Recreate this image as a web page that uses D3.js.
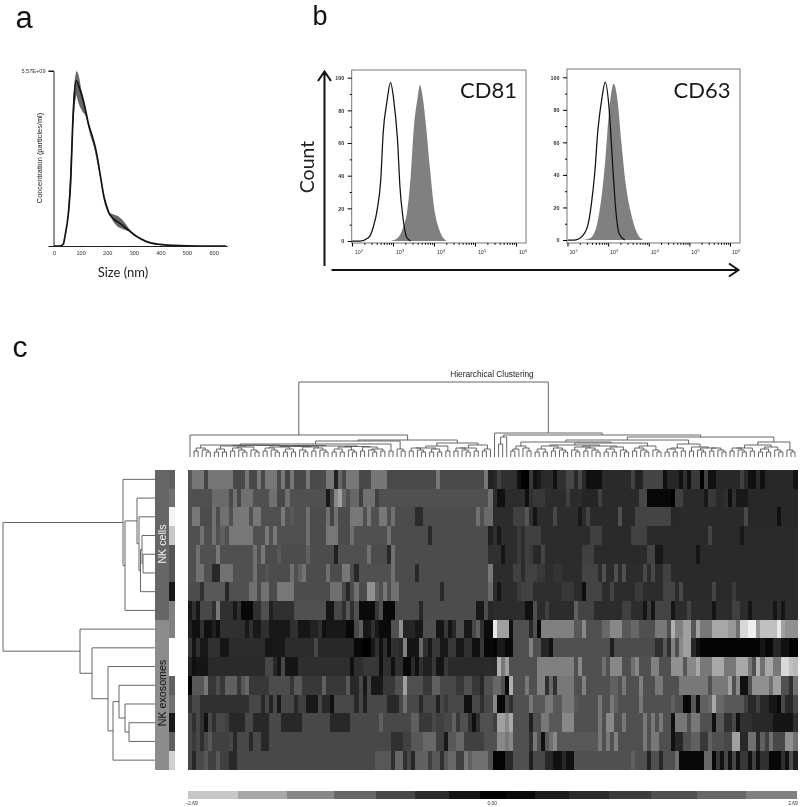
<!DOCTYPE html>
<html><head><meta charset="utf-8">
<script src="https://cdn.jsdelivr.net/npm/d3@7"></script>
<style>html,body{margin:0;padding:0;background:#fff}svg{display:block;filter:blur(0.35px)}</style>
</head><body><svg id="c" width="800" height="807"></svg>
<script>
// ---------- panel a: size (nm) vs concentration (1e9 particles/ml)
const ntaSize=[0,22,35,41,54,63,70,75,83,98,113,129,148,160,173,188,204,223,248,279,311,348,398,449,549,647];
const ntaConc=[0,0,.06,.3,1.04,2.1,3.79,4.64,5.25,4.96,4.53,3.9,3.37,2.95,2.3,1.55,1.09,.87,.72,.51,.3,.14,.05,.02,0,0];
const errSize=[54,60,66,72,78,84,90,96,102,108,114,120,135,150,170,190,210,225,240,255,270,285,300];
const errHigh=[1.2,2.2,3.3,4.6,5.3,5.57,5.5,5.3,5.0,4.8,4.55,4.3,3.7,3.25,2.45,1.55,1.05,1.0,.95,.85,.7,.52,.4];
const errLow=[.8,1.4,2.4,3.8,4.5,4.8,4.6,4.45,4.35,4.25,4.2,4.1,3.55,3.15,2.35,1.45,.95,.75,.6,.55,.5,.45,.38];
const ntaTicks=[0,100,200,300,400,500,600];
// ---------- panel b: flow cytometry histograms
const cd81OpenX=[98,157,251,331,417,501,575,708,871,1047,1288,1479,1738,2138,2692];
const cd81OpenY=[0,0,2,8.6,20,37,66,85,97,86,62,33,15,2.5,0];
const cd81FillX=[851,1230,1778,2239,2692,3236,3890,4571,5248,6310,7943,10000,14125,20417];
const cd81FillY=[0,1.4,8.6,19,39,70,86,95.5,89,72,45,21,5.5,0];
const cd63OpenX=[100,151,243,324,389,468,562,692,851,1047,1288,1549,1862,2570];
const cd63OpenY=[0,0,3,10,22.5,41,68,86,97,82,47,18,4,0];
const cd63FillX=[243,355,513,692,851,1047,1380,1660,2138,2692,3548,5012,7244];
const cd63FillY=[0,1,8,27,49,78,96,88,59,35,18,5,0];
const flowYMajor=[0,20,40,60,80,100];
const flowYMinor=[10,30,50,70,90];
const flowXMajor=[100,1000,10000,100000,1000000];
const flowXExp=[2,3,4,5,6];
const flowXMinor=[200,300,400,500,600,700,800,900,2000,3000,4000,5000,6000,7000,8000,9000,20000,30000,40000,50000,60000,70000,80000,90000,200000,300000,400000,500000,600000,700000,800000,900000];
// ---------- panel c: heat map, gray level per run of columns ("count:level", level in hex)
const heatLeft=[
"55 3:77 44 6:77 3:48 77 2:48 77 48 3:77 48 77 44 77 3:48 77 4:4a 2:77 22 66 33 48 3:77 3:48 4:77 12:4a 77 11:4a 77 22",
"6:50 4:6a 48 70 48 3:70 4:50 2:70 2:48 70 9:50 18 44 88 a0 66 50 2:66 40 3:70 40 27:50 70",
"50 2:78 3:4c 70 4c 2:70 50 4:78 50 2:78 5:50 78 50 58 3:50 70 4:4c 70 44 70 3:4c 3:78 50 78 2:50 2:78 50 70 5:4c 2:2c 13:4c 70 50 2:6a",
"3:50 70 2:50 70 50 60 50 6:78 3:50 78 50 78 7:50 70 4:4c 3:78 3:4c 70 8:50 70 9:4c 2a 14:4c 20",
"2:50 70 4:50 78 8:50 70 50 78 3:4c 58 6:4c 60 6:4c 20 7:50 70 4:4c 28 70 23:4c 30",
"2:50 2:72 2:50 2:28 3:72 5:50 70 2:4c 54 5:4c 70 50 60 72 5:4c 70 2:4c 2:78 4c 28 8:50 70 5:4c 28 17:4c 78",
"3:4c 30 5:58 28 5:50 2:70 4c 2:72 2:4c 4:78 9:4c 2:70 48 28 4c 70 2:4c 2:90 60 50 78 50 2:70 10:4c 2a 11:4c 6a",
"18 30 15 3:48 30 78 3:30 18 30 3:08 2:30 2:50 20 5:30 8:50 2:15 48 30 58 30 50 4:0a 38 50 3:08 6:4c 28 13:4c 2:18 4c 28",
"20 2:10 30 2:10 20 10 6:30 18 30 2:18 2:30 5:18 2:30 3:15 2:22 30 10 4:18 2:08 48 60 2:18 30 18 3:0a 2:50 90 3:25 2:18 3:50 2:15 38 15 28 2:50 2:18 48 60 30 2:0c",
"38 15 30 2:18 3:30 2:15 9:2c 2:15 3:18 7:2c 48 2:28 6:28 2:08 2:00 18 30 10 30 0c 2:30 28 80 3:15 68 30 18 2:38 2:18 2:38 2:18 2:30 2:10 38 2:08",
"20 10 3:15 14:2a 2:48 28 15 48 3:15 12:2e 10 2:2e 4:38 10 2:30 10 2:30 2:08 2a 10 30 2:20 38 2:15 38 5:2a 6:2a",
"02 3:58 78 2:38 4c 38 3:60 38 58 68 5:38 5:4c 38 2:58 5:38 60 4:38 58 2:28 48 18 48 3:18 3:38 2:50 a0 4:50 2:38 2:60 4:48 2:38 2:50 2:38 28 2:50",
"30 2:48 12:30 3:48 28 48 25 48 18 3:48 28 2:40 3:18 48 2:28 10 4:48 28 48 22 5:48 3:28 48 70 3:48 28 3:48 20 48 38 4:48 2:10 2:48 30 2:48",
"48 30 48 30 10 48 30 2:48 40 4:28 2:48 4:28 3:48 5:28 7:48 4:28 7:48 60 7:48 2:60 3:38 48 2:40 2:48 60 38 2:50 30 10 30 3:50",
"48 3a 48 30 48 58 4:40 48 28 3:48 28 2:48 2:28 30:48 3:30 2:40 3:58 3:68 2:40 18 2:58 2:68 5:40 2:50",
"48 28 2:48 58 2:40 58 2:40 2:28 34:48 4:58 30 2:68 30 48 28 3:60 40 2:58 30 58 2:68 2:40 78 60 4:70 50"];
const heatRight=[
"2a 40 4:30 10 2:00 38 10 18 3:2a 10 2:30 48 2a 48 2a 4:10 7:2a 44 2:22 5:44 10 3:28 10 30 10 2:3a 00 40 2:10 5:28 40 28 2:10 2a 10 7:28 12",
"2c 2:10 5:2c 10 30 2:38 5:2c 40 3:2c 4:25 40 9:2a 48 6:08 00 2:40 5:2a 18 2:38 2:2a 30 10 30 2:18 12:28",
"5:2c 3:40 55 30 15 4:2c 48 4:2c 18 2c 44 7:2a 50 3:2a 9:44 2:28 15:2a 48 7:28 10 4:28",
"30 18 4:2c 3a 2c 4:40 11:2c 3:40 7:2a 4:42 15:2a 44 6:2a 18 13:2a",
"2:30 15 3:2c 3a 2c 40 3a 2:28 44 9:2c 3:40 12:2a 2:44 2:18 8:2a 15 24:2a",
"5:2c 2:40 2c 3:42 2:38 2:2c 2:34 4:2c 4:44 2c 50 2:2c 50 2c 50 4:2c 48 2c 48 2:2c 2:42 30:2a",
"2c 15 4:2c 3a 3:42 7:2e 2:38 2:2c 10 4:44 2:2c 44 5:2c 2:3a 5:2c 3:44 2c 48 7:2a 44 3:2a 3c 15:2a",
"8:2c 2:10 50 2:2c 40 5:2c 60 4:44 7:2c 2:40 3:2c 15 3a 15 4:44 15 3:2c 44 5:2c 15 3:2c 2:40 2:2c 15 5:2c 15 2c 15 3:2c",
"e8 3:a0 10 4:50 28 50 08 7:80 2:58 88 4:50 2:68 3:88 2:58 2:68 4:50 3:78 50 b0 2:80 2:a0 58 a0 3:78 3:a8 2:98 70 2:d8 2:f0 98 4:c0 e8 a0 3:90",
"04 2:18 2:08 4:50 80 2:50 2:25 10 13:50 20 10:4c 2:30 58 30 80 50 88 2:a0 28 10 14:04 15 2:08 2:28 2:10 2:04",
"28 b0 78 a0 7:50 8:80 50 88 5:50 70 50 3:88 2:50 70 88 3:50 2:80 3:50 3:90 58 2:88 a8 3:78 2:a8 3:78 3:a8 78 50 b0 70 2:a8 2:78 2:d8 c0 b8",
"2:68 50 08 b0 3:50 78 2:50 2:80 30 68 30 3:78 2:50 80 6:50 2:60 50 78 3:50 80 3:50 2:78 4:50 7:78 50 3:78 a0 50 88 2:10 50 90 3:90 70 2:a0 2:50 30 70",
"88 2:08 48 30 4:50 78 3:58 2:78 2:58 2:78 58 5:50 78 2:50 78 60 5:50 78 7:50 60 2:50 2:08 58 10 2:60 68 a8 68 5:58 40 2:28 40 2:28 2:15 08 48 2:28 48",
"40 2:a0 88 a8 4:50 20 2:50 2:78 3:58 2:88 6:50 78 50 2:88 2:50 78 4:50 78 50 78 50 78 2:50 10 3:78 50 2:78 3:50 10 58 2:30 48 10 3:30 5:28 5:15 30",
"50 2:88 78 88 4:50 30 78 50 10 58 70 88 9:58 78 50 78 50 80 6:50 78 50 2:78 3:50 10 2:28 2:50 2:60 2:38 60 2:50 2:48 2:a0 2:28 2:70 28 60 40 70 3:48 2:90 70",
"3:04 2:28 4:50 20 2:48 2:28 2:10 28 2:10 14:50 60 2:50 22 2:50 28 3:50 70 6:08 2:68 08 38 10 48 10 48 10 38 10 40 10 2:30 3:08 30 10 50 20"];
const rowGroupLabels=["NK cells","NK exosomes"];
const rowGroupGrays=[0x66,0x8c];
const rowSampleGrays=[0x60,0x70,0xf4,0xc8,0x55,0x55,0x18,0x80,0x80,0xff,0xff,0x60,0x70,0x18,0x60,0xd0];
const legendEdges=[-2.69,-2.24,-1.81,-1.40,-1.03,-0.68,-0.38,-0.11,0.12,0.38,0.68,1.03,1.40,1.81,2.24,2.69];
const legendGrays=[0xc8,0xa8,0x88,0x66,0x48,0x2c,0x14,0x00,0x0a,0x1c,0x2c,0x3c,0x50,0x68,0x80];
const legendLabels=[-2.69,0,2.69];
// dendrograms: [height, left, right], 0 = leaf
const a5=[9,[6,0,0],[7,0,[5,0,0]]];
const b4=[8,[5,0,0],[5,0,0]];
const t3=[7,0,[5,0,0]];
const c2=[6,0,0];
const colLeftMain=[11.5,[11,b4,[10,a5,t3]],[11,[10.5,[10,a5,b4],[10,t3,a5]],[10.5,[10,b4,t3],[10,c2,[8,t3,c2]]]]];
const colLeftSide=[14,[11,[9,a5,b4],c2],[12,[9,a5,c2],[8,c2,0]]];
const colLeft=[22,0,[17,[16,[13,[12,a5,colLeftMain],c2],[8,0,c2]],colLeftSide]];
const colRightA=[15,[11,[8,c2,0],[9,0,c2]],[14,[12,[11,b4,a5],[11,[10,t3,a5],[10,b4,t3]]],[11,a5,t3]]];
const colRightB=[13,[9,b4,c2],[10,c2,[9,t3,a5]]];
const colRightC=[15,[12,[9,a5,c2],[10,b4,t3]],t3];
const colRight=[24,0,[22,[20,[13,0,0],0],[20,[17,colRightA,colRightB],colRightC]]];
const colTree=[75,colLeft,colRight];
const rowTree=[152,
 [32,0,[30,[18,0,[16,0,[14.5,[13,0,[12,0,0]],0]]],0]],
 [75,0,[63,0,[47,0,[42,[36,0,[30,0,[26,0,0]]],0]]]]];

const svg=d3.select("#c");
const SANS="'Liberation Sans',Arial,sans-serif", BIG="Lato,sans-serif";
const gray=v=>d3.rgb(v,v,v).formatHex();
function label(t,x,y,size,opt={}){
  const e=svg.append("text").attr("x",x).attr("y",y).attr("font-size",size).attr("font-family",opt.font||BIG)
   .attr("text-anchor",opt.anchor||"middle").attr("fill",opt.fill||"#111").text(t);
  if(opt.rot!==undefined) e.attr("transform",`rotate(${opt.rot} ${x} ${y})`);
  return e;
}
label("a",24,28,31,{font:SANS});
label("b",320,24.5,27,{font:SANS});
label("c",20,357,30,{font:SANS});

// ---------- panel a
const aX=d3.scaleLinear().domain([0,650]).range([54,226.9]);
const aY=d3.scaleLinear().domain([0,5.57]).range([246,70.7]);
const ga=svg.append("g");
ga.append("path").attr("d",d3.area().x((d,i)=>aX(errSize[i])).y0((d,i)=>aY(errLow[i])).y1((d,i)=>aY(errHigh[i]))(errSize)).attr("fill","#666");
ga.append("path").attr("d",d3.line().x((d,i)=>aX(ntaSize[i])).y((d,i)=>aY(ntaConc[i])).curve(d3.curveMonotoneX)(ntaSize))
  .attr("fill","none").attr("stroke","#111").attr("stroke-width",1.7);
const axA=ga.append("g").attr("transform","translate(0,246)").call(d3.axisBottom(aX).tickValues(ntaTicks).tickSize(1));
axA.select(".domain").attr("stroke","#222");
axA.selectAll("text").attr("font-size",5.6).attr("font-family",SANS).attr("fill","#333").attr("dy",4.5);
const ayA=ga.append("g").attr("transform","translate(53.5,0)").call(d3.axisLeft(aY).tickValues([5.57]).tickSize(5).tickFormat(()=>"5.57E+09"));
ayA.select(".domain").attr("stroke","#222");
ayA.selectAll("text").attr("font-size",5.6).attr("font-family",SANS).attr("fill","#333");
label("Concentration (particles/ml)",42,158,7.4,{font:SANS,rot:-90,fill:"#222"});
label("Size (nm)",123,277,13,{fill:"#222"});

// ---------- panel b
function flow(left,right,x2,x6,exOff,yTop,y0,y100,openX,openY,fillX,fillY,name,nameX){
  const x=d3.scaleLog().domain([100,1e6]).range([x2,x6]);
  const y=d3.scaleLinear().domain([0,100]).range([y0,y100]);
  const g=svg.append("g");
  const clip=d=>Math.max(left,x(d));
  g.append("path").attr("d",d3.area().x((d,i)=>clip(fillX[i])).y0(y0).y1((d,i)=>y(fillY[i])).curve(d3.curveMonotoneX)(fillX)).attr("fill","#808080");
  g.append("path").attr("d",d3.line().x((d,i)=>clip(openX[i])).y((d,i)=>y(openY[i])).curve(d3.curveMonotoneX)(openX))
    .attr("fill","none").attr("stroke","#111").attr("stroke-width",1.25);
  g.append("rect").attr("x",left).attr("y",yTop).attr("width",right-left).attr("height",243-yTop).attr("fill","none").attr("stroke","#777").attr("stroke-width",1);
  const ym=g.append("g").attr("transform",`translate(${left},0)`).call(d3.axisLeft(y).tickValues(flowYMajor).tickSize(4));
  ym.select(".domain").remove();
  ym.selectAll("text").attr("font-size",5.4).attr("font-family",SANS).attr("font-weight","bold").attr("fill","#333").attr("dx",-0.5);
  const yn=g.append("g").attr("transform",`translate(${left},0)`).call(d3.axisLeft(y).tickValues(flowYMinor).tickSize(2).tickFormat(""));
  yn.select(".domain").remove();
  const xm=g.append("g").attr("transform","translate(0,243)").call(d3.axisBottom(x).tickValues(flowXMajor).tickSize(3.5).tickFormat(""));
  xm.select(".domain").remove();
  const xn=g.append("g").attr("transform","translate(0,243)").call(d3.axisBottom(x).tickValues(flowXMinor).tickSize(1.8).tickFormat(""));
  xn.select(".domain").remove();
  flowXMajor.forEach((v,i)=>{
    const t=g.append("text").attr("x",x(v)+exOff).attr("y",254).attr("text-anchor","middle").attr("font-size",5.4).attr("font-family",SANS).attr("fill","#333");
    t.append("tspan").text("10");
    t.append("tspan").attr("font-size",4).attr("dy",-2).text(flowXExp[i]);
  });
  label(name,nameX,97.7,22,{fill:"#1a1a1a"});
}
flow(351.7,526,352,516,7,70,241,77.7,cd81OpenX,cd81OpenY,cd81FillX,cd81FillY,"CD81",488.5);
flow(567,740,567.5,730,6,69,240,77.3,cd63OpenX,cd63OpenY,cd63FillX,cd63FillY,"CD63",702);
label("Count",314,167,19.5,{rot:-90,fill:"#222"});
const arrow=svg.append("g").attr("fill","none").attr("stroke","#111").attr("stroke-width",2);
arrow.append("path").attr("d","M324.5 266V71.5M318 81L324.5 71.5L331 81");
arrow.append("path").attr("d","M331.5 270H738M729 263.5L738.5 270L729 276.5");

// ---------- panel c
function expand(s){
  const runs=s.split(" ").map(t=>{const p=t.split(":");return p.length>1?[+p[0],p[1]]:[1,p[0]];});
  const total=d3.sum(runs,r=>r[0]);
  const out=new Array(75);let cum=0,pos=0;
  runs.forEach(r=>{cum+=r[0];const end=Math.round(cum*75/total);for(;pos<end;pos++)out[pos]=parseInt(r[1],16);});
  return out;
}
const heat=heatLeft.map((s,i)=>expand(s).concat(expand(heatRight[i])));
const xH=d3.scaleBand().domain(d3.range(150)).range([188,797]);
const yH=d3.scaleBand().domain(d3.range(16)).range([470,769.5]);
const gh=svg.append("g").attr("shape-rendering","crispEdges");
heat.forEach((row,r)=>{
  gh.append("g").selectAll("rect").data(row).join("rect")
    .attr("x",(d,c)=>xH(c)).attr("y",yH(r)).attr("width",xH.bandwidth()+.5).attr("height",yH.bandwidth()+.5)
    .attr("fill",d=>gray(d));
});
// row annotation bars
const gb=svg.append("g").attr("shape-rendering","crispEdges");
[0,1].forEach(i=>gb.append("rect").attr("x",155).attr("y",yH(i*8)).attr("width",14).attr("height",yH.bandwidth()*8).attr("fill",gray(rowGroupGrays[i])));
gb.selectAll(".s").data(rowSampleGrays).join("rect").attr("x",169).attr("y",(d,i)=>yH(i)).attr("width",6).attr("height",yH.bandwidth()+.5).attr("fill",d=>gray(d));
label(rowGroupLabels[0],166,544,10.7,{font:SANS,rot:-90,fill:"#f2f2f2"});
label(rowGroupLabels[1],166,693,10.7,{font:SANS,rot:-90,fill:"#111"});

// dendrograms
function layout(tree){
  const root=d3.hierarchy(tree,d=>Array.isArray(d)?d.slice(1):null);
  root.leaves().forEach((l,i)=>{l.pos=i;});
  root.eachAfter(n=>{n.h=Array.isArray(n.data)?n.data[0]:0;if(n.children)n.pos=(n.children[0].pos+n.children[1].pos)/2;});
  return root.descendants().filter(n=>n.children);
}
const xT=d3.scaleLinear().domain([0,149]).range([190,795]);
const yT=d3.scaleLinear().domain([0,75]).range([457,382]);
svg.append("g").selectAll("path").data(layout(colTree)).join("path")
  .attr("d",n=>{const [a,b]=n.children;return `M${xT(a.pos)} ${yT(a.h)}V${yT(n.h)}H${xT(b.pos)}V${yT(b.h)}`;})
  .attr("fill","none").attr("stroke","#555").attr("stroke-width",.9);
const xR=d3.scaleLinear().domain([0,152]).range([155,3]);
const yR=d3.scaleLinear().domain([0,15]).range([yH(0)+yH.bandwidth()/2,yH(15)+yH.bandwidth()/2]);
svg.append("g").selectAll("path").data(layout(rowTree)).join("path")
  .attr("d",n=>{const [a,b]=n.children;return `M${xR(a.h)} ${yR(a.pos)}H${xR(n.h)}V${yR(b.pos)}H${xR(b.h)}`;})
  .attr("fill","none").attr("stroke","#555").attr("stroke-width",.9);
label("Hierarchical Clustering",492,377,8.3,{font:SANS,fill:"#222"});

// colour legend
const xL=d3.scaleLinear().domain([-2.69,2.69]).range([187.5,797]);
svg.append("g").attr("shape-rendering","crispEdges").selectAll("rect").data(legendGrays).join("rect")
  .attr("x",(d,i)=>xL(legendEdges[i])).attr("y",791).attr("width",(d,i)=>xL(legendEdges[i+1])-xL(legendEdges[i])).attr("height",8).attr("fill",d=>gray(d));
legendLabels.forEach((v,i)=>label(d3.format(".2f")(v),xL(v)+[4,0,-4][i],804.5,5,{font:SANS,fill:"#333"}));
</script></body></html>
